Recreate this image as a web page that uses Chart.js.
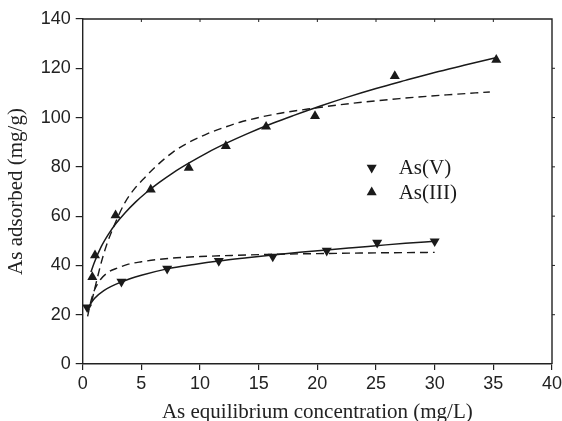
<!DOCTYPE html>
<html><head><meta charset="utf-8">
<script src="https://cdn.jsdelivr.net/npm/chart.js@4/dist/chart.umd.min.js"></script>
<style>html,body{margin:0;padding:0;background:#fff;}#wrap{width:562px;height:421px;position:relative;}</style>
</head><body><div id="wrap"><canvas id="c" width="562" height="421"></canvas></div>
<script>
// ---- data ----
const xTicks = [0, 5, 10, 15, 20, 25, 30, 35, 40];
const yTicks = [0, 20, 40, 60, 80, 100, 120, 140];
const xTitle = 'As equilibrium concentration (mg/L)';
const yTitle = 'As adsorbed (mg/g)';
const seriesNames = ['As(V)', 'As(III)'];

const asV_x = [0.38, 3.3, 7.2, 11.6, 16.2, 20.8, 25.1, 30.0];
const asV_y = [23.0, 33.4, 38.7, 41.8, 43.6, 46.0, 49.2, 49.8];
const asIII_x = [0.82, 1.05, 2.8, 5.8, 9.04, 12.2, 15.63, 19.8, 26.6, 35.25];
const asIII_y = [35.3, 44.1, 60.3, 70.8, 79.6, 88.4, 96.3, 100.6, 116.8, 123.4];

// fitted curves
const asIIIsolid_x = [0.7, 1.0, 1.6, 2.2, 2.8, 3.6, 4.5, 5.5, 6.5, 7.7, 9.0, 10.6, 12.2, 14.0, 16.3, 18.0, 20.2, 22.5, 25.0, 27.5, 30.0, 32.5, 35.2];
const asIIIsolid_y = [37.3, 41.3, 47.8, 52.7, 56.8, 61.3, 65.7, 69.9, 73.6, 77.6, 81.4, 85.7, 89.5, 93.4, 97.9, 100.9, 104.6, 108.2, 111.8, 115.1, 118.3, 121.2, 124.3];
const asIIIdash_x = [0.77, 0.9, 1.2, 1.6, 2.0, 2.6, 3.6, 4.5, 5.2, 6.2, 7.7, 9.0, 10.6, 12.0, 13.4, 16.3, 19.7, 23.0, 27.0, 31.0, 34.7];
const asIIIdash_y = [25.3, 28.0, 34.0, 41.5, 47.8, 55.3, 65.5, 71.6, 75.2, 80.0, 86.0, 89.8, 93.4, 95.9, 98.1, 101.3, 103.8, 105.8, 107.7, 109.2, 110.4];
const asVsolid_x = [0.38, 0.6, 1.0, 1.8, 3.3, 5.0, 7.2, 9.5, 11.6, 14.0, 16.2, 18.5, 20.8, 23.0, 25.0, 27.5, 30.0];
const asVsolid_y = [22.0, 23.9, 26.6, 29.8, 33.3, 36.0, 38.6, 40.4, 41.8, 43.1, 44.2, 45.3, 46.3, 47.2, 48.0, 49.0, 49.8];
const asVdash_x = [0.42, 0.7, 1.0, 1.5, 2.2, 3.0, 3.9, 5.0, 6.2, 8.0, 10.0, 13.0, 16.0, 20.0, 25.0, 30.0];
const asVdash_y = [19.3, 25.5, 30.0, 34.2, 37.3, 39.0, 40.5, 41.5, 42.3, 43.1, 43.6, 44.1, 44.5, 44.8, 45.1, 45.3];

const pts = (xs, ys) => xs.map((x, i) => ({x: x, y: ys[i]}));
const INK = '#1a1a1a';
const MR = 5.8;

const frame = {
  id: 'frame',
  afterDraw(chart) {
    const {ctx, chartArea: a, scales} = chart;
    ctx.save();
    ctx.strokeStyle = '#222';
    ctx.lineWidth = 1.4;
    ctx.beginPath();
    ctx.moveTo(a.left, a.top); ctx.lineTo(a.right, a.top); ctx.lineTo(a.right, a.bottom);
    ctx.stroke();
    ctx.lineWidth = 1;
    ctx.beginPath();
    xTicks.slice(1, -1).forEach(v => { const px = scales.x.getPixelForValue(v); ctx.moveTo(px, a.top); ctx.lineTo(px, a.top + 3); });
    yTicks.slice(1, -1).forEach(v => { const py = scales.y.getPixelForValue(v); ctx.moveTo(a.right, py); ctx.lineTo(a.right + 3, py); });
    ctx.stroke();
    // legend
    const lx = a.left + 289, tx = a.left + 316;
    const rows = [{y: 167.7, down: true, t: seriesNames[0]}, {y: 192.3, down: false, t: seriesNames[1]}];
    ctx.fillStyle = INK;
    ctx.font = '21px "Liberation Serif", "Times New Roman", serif';
    ctx.textBaseline = 'middle';
    ctx.textAlign = 'left';
    rows.forEach(r => {
      const s = r.down ? -1 : 1;
      ctx.beginPath();
      ctx.moveTo(lx, r.y - s * MR);
      ctx.lineTo(lx + MR * 0.866, r.y + s * MR * 0.5);
      ctx.lineTo(lx - MR * 0.866, r.y + s * MR * 0.5);
      ctx.closePath();
      ctx.fill();
      ctx.fillText(r.t, tx, r.y + 1);
    });
    ctx.restore();
  }
};

new Chart(document.getElementById('c'), {
  type: 'scatter',
  data: {
    datasets: [
      {label: seriesNames[0], data: pts(asV_x, asV_y), pointStyle: 'triangle', rotation: 180, pointRadius: MR, backgroundColor: INK, borderColor: INK, borderWidth: 0, showLine: false},
      {label: seriesNames[1], data: pts(asIII_x, asIII_y), pointStyle: 'triangle', pointRadius: MR, backgroundColor: INK, borderColor: INK, borderWidth: 0, showLine: false},
      {label: 'AsIII Freundlich', data: pts(asIIIsolid_x, asIIIsolid_y), showLine: true, pointRadius: 0, borderColor: INK, borderWidth: 1.5, cubicInterpolationMode: 'monotone', fill: false},
      {label: 'AsIII Langmuir', data: pts(asIIIdash_x, asIIIdash_y), showLine: true, pointRadius: 0, borderColor: INK, borderWidth: 1.4, borderDash: [8, 5], cubicInterpolationMode: 'monotone', fill: false},
      {label: 'AsV Freundlich', data: pts(asVsolid_x, asVsolid_y), showLine: true, pointRadius: 0, borderColor: INK, borderWidth: 1.5, cubicInterpolationMode: 'monotone', fill: false},
      {label: 'AsV Langmuir', data: pts(asVdash_x, asVdash_y), showLine: true, pointRadius: 0, borderColor: INK, borderWidth: 1.4, borderDash: [8, 5], cubicInterpolationMode: 'monotone', fill: false}
    ]
  },
  options: {
    responsive: false,
    animation: false,
    devicePixelRatio: 1,
    layout: {padding: {top: 19, right: 10, left: 0, bottom: 0}},
    plugins: {legend: {display: false}, tooltip: {enabled: false}},
    scales: {
      x: {
        type: 'linear', min: 0, max: 40,
        afterBuildTicks: s => { s.ticks = xTicks.map(v => ({value: v})); },
        afterFit: s => { s.height = 57; s.paddingRight = 10; },
        grid: {display: true, drawOnChartArea: false, drawTicks: true, tickLength: 6, color: '#222', lineWidth: 1.2},
        border: {display: true, color: '#222', width: 1.4},
        ticks: {color: '#222', padding: 3, maxRotation: 0, font: {family: '"Liberation Sans", Arial, sans-serif', size: 18}},
        title: {display: true, text: xTitle, color: '#222', padding: {top: 0, bottom: -4}, font: {family: '"Liberation Serif", "Times New Roman", serif', size: 21}}
      },
      y: {
        type: 'linear', min: 0, max: 140,
        afterBuildTicks: s => { s.ticks = yTicks.map(v => ({value: v})); },
        afterFit: s => { s.width = 82.7; },
        grid: {display: true, drawOnChartArea: false, drawTicks: true, tickLength: 7, color: '#222', lineWidth: 1.2},
        border: {display: true, color: '#222', width: 1.4},
        ticks: {color: '#222', padding: 5, font: {family: '"Liberation Sans", Arial, sans-serif', size: 18}},
        title: {display: true, text: yTitle, color: '#222', padding: {top: 4, bottom: 0}, font: {family: '"Liberation Serif", "Times New Roman", serif', size: 21}}
      }
    }
  },
  plugins: [frame]
});
</script></body></html>
